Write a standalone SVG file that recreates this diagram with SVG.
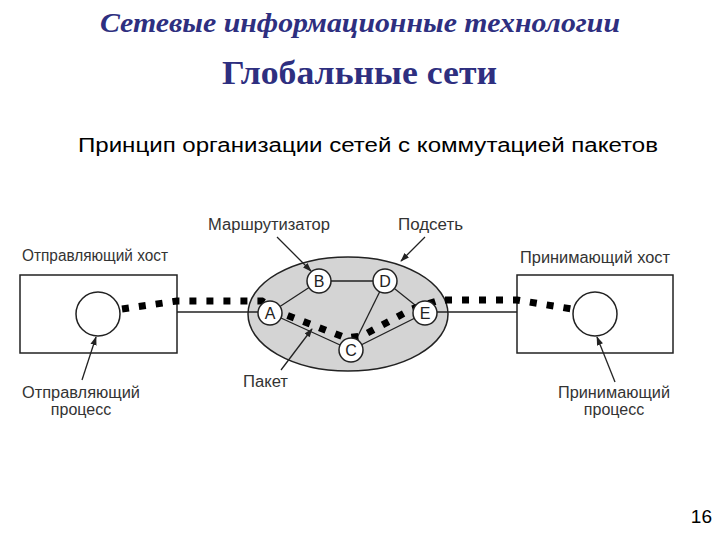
<svg xmlns="http://www.w3.org/2000/svg" width="720" height="540" viewBox="0 0 720 540">
<style>
.t1{font-family:"Liberation Serif",serif;font-style:italic;font-weight:bold;font-size:28px;fill:#2e2f80}
.t2{font-family:"Liberation Serif",serif;font-weight:bold;font-size:33px;fill:#2e2f80}
.sub{font-family:"Liberation Sans",sans-serif;font-size:20px;fill:#000}
.lbl{font-family:"Liberation Sans",sans-serif;font-size:16px;fill:#333}
.nl{font-family:"Liberation Sans",sans-serif;font-size:16px;fill:#222;text-anchor:middle;dominant-baseline:central}
.box{fill:#fff;stroke:#222;stroke-width:1.5}
.node{fill:#fff;stroke:#222;stroke-width:1.5}
.edge{stroke:#222;stroke-width:1.3;fill:none}
.pkt{stroke:#000;stroke-width:7;stroke-dasharray:7 10;fill:none}
.arr{stroke:#222;stroke-width:1.3;fill:none;marker-end:url(#ah)}
</style>
<defs>
<marker id="ah" viewBox="0 0 10 10" refX="9" refY="5" markerWidth="9" markerHeight="9" orient="auto" markerUnits="userSpaceOnUse">
<path d="M0,1.5 L10,5 L0,8.5 z" fill="#222"/>
</marker>
</defs>
<rect width="720" height="540" fill="#fff"/>
<text class="t1" x="100" y="32" textLength="520" lengthAdjust="spacingAndGlyphs">Сетевые информационные технологии</text>
<text class="t2" x="222" y="84" textLength="275" lengthAdjust="spacingAndGlyphs">Глобальные сети</text>
<text class="sub" x="78" y="152" textLength="580" lengthAdjust="spacingAndGlyphs">Принцип организации сетей с коммутацией пакетов</text>

<g id="subnet">
<ellipse cx="348" cy="314" rx="100" ry="57" fill="#d4d4d4" stroke="#222" stroke-width="1.5"/>
</g>

<g id="connectors">
<line class="edge" x1="177" y1="312" x2="262" y2="312"/>
<line class="edge" x1="437" y1="312" x2="517" y2="312"/>
<line class="edge" x1="270" y1="313" x2="319" y2="281"/>
<line class="edge" x1="319" y1="281" x2="385" y2="281"/>
<line class="edge" x1="385" y1="281" x2="425" y2="313"/>
<line class="edge" x1="270" y1="313" x2="351" y2="350"/>
<line class="edge" x1="385" y1="281" x2="351" y2="350"/>
<line class="edge" x1="351" y1="350" x2="425" y2="313"/>
</g>

<g id="send-host">
<rect class="box" x="20" y="275" width="157" height="78"/>
</g>
<g id="recv-host">
<rect class="box" x="517" y="275" width="156" height="78"/>
</g>

<g id="packets">
<path class="pkt" d="M122,309 L177,301 L262,301 L284,314 L346,338 L362,336 L412,309 L440,300 L517,300 L572,309"/>
</g>

<g id="send-proc"><circle class="node" cx="98" cy="314" r="22"/></g>
<g id="recv-proc"><circle class="node" cx="595" cy="314" r="22"/></g>

<g id="A"><circle class="node" cx="270" cy="313" r="12"/><text class="nl" x="270" y="313">A</text></g>
<g id="B"><circle class="node" cx="319" cy="281" r="12"/><text class="nl" x="319" y="281">B</text></g>
<g id="C"><circle class="node" cx="351" cy="350" r="12"/><text class="nl" x="351" y="350">C</text></g>
<g id="D"><circle class="node" cx="385" cy="281" r="12"/><text class="nl" x="385" y="281">D</text></g>
<g id="E"><circle class="node" cx="425" cy="313" r="12"/><text class="nl" x="425" y="313">E</text></g>

<g id="pointers">
<line class="arr" x1="277" y1="237" x2="311" y2="271"/>
<line class="arr" x1="425" y1="237" x2="401" y2="261"/>
<line class="arr" x1="281" y1="370" x2="312" y2="329"/>
<line class="arr" x1="82" y1="380" x2="96" y2="337"/>
<line class="arr" x1="615" y1="382" x2="597" y2="337"/>
</g>

<g id="labels">
<text class="lbl" x="22" y="261" textLength="146" lengthAdjust="spacingAndGlyphs">Отправляющий хост</text>
<text class="lbl" x="520" y="263" textLength="150" lengthAdjust="spacingAndGlyphs">Принимающий хост</text>
<text class="lbl" x="208" y="230" textLength="122" lengthAdjust="spacingAndGlyphs">Маршрутизатор</text>
<text class="lbl" x="398" y="230" textLength="65" lengthAdjust="spacingAndGlyphs">Подсеть</text>
<text class="lbl" x="243" y="387" textLength="45" lengthAdjust="spacingAndGlyphs">Пакет</text>
<text class="lbl" x="22" y="398" textLength="118" lengthAdjust="spacingAndGlyphs">Отправляющий</text>
<text class="lbl" x="81" y="415" text-anchor="middle">процесс</text>
<text class="lbl" x="558" y="398" textLength="112" lengthAdjust="spacingAndGlyphs">Принимающий</text>
<text class="lbl" x="614" y="415" text-anchor="middle">процесс</text>
</g>
<text x="712" y="523" text-anchor="end" style="font-family:'Liberation Sans',sans-serif;font-size:19px;fill:#000">16</text>
</svg>
